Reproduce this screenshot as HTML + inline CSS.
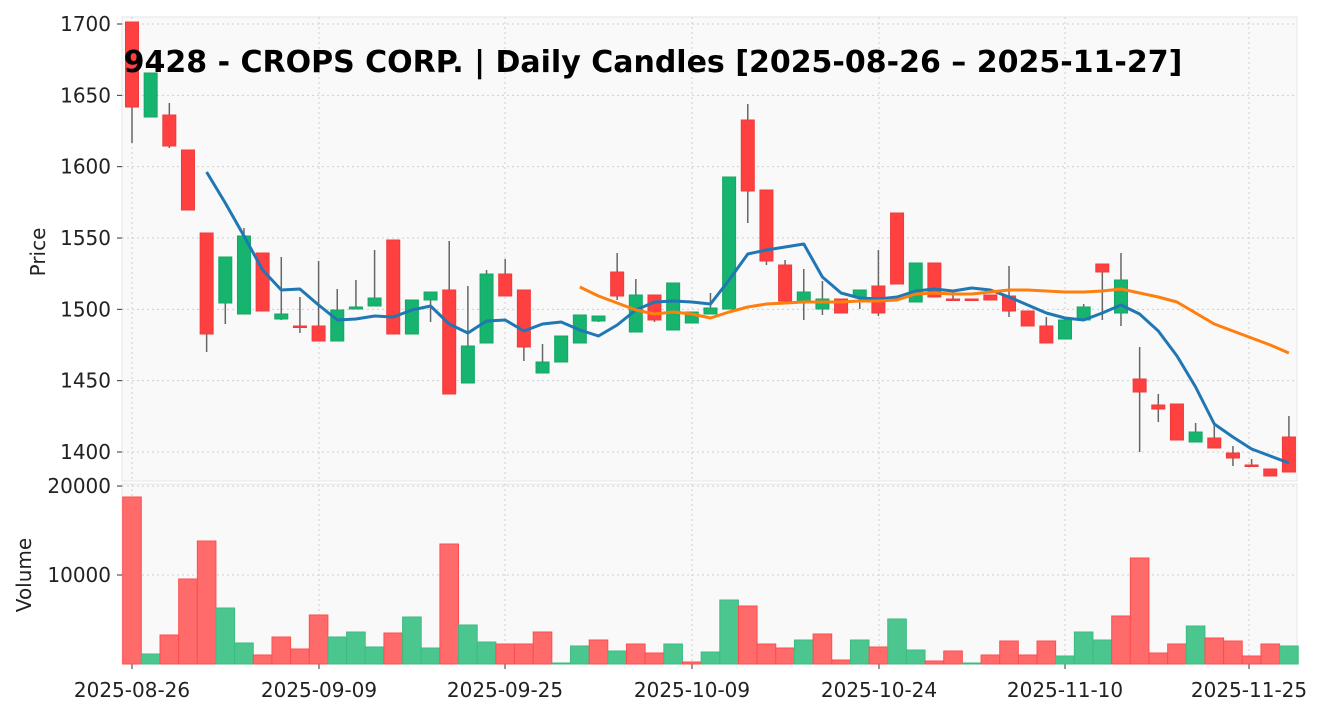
<!DOCTYPE html>
<html><head><meta charset="utf-8"><style>
html,body{margin:0;padding:0;background:#fff;}
svg{display:block;font-family:"DejaVu Sans","Liberation Sans",sans-serif;}
</style></head><body>
<svg id="c" width="1325" height="715" xmlns="http://www.w3.org/2000/svg"></svg>
<script>
const S=document.getElementById('c');let h='';
h+='<rect x="122" y="17" width="1175" height="464" fill="#f9f9f9" stroke="#e6e6e6"/>';
h+='<rect x="122" y="484" width="1175" height="180" fill="#f9f9f9" stroke="#e6e6e6"/>';
const py=p=>24+(1700-p)*428/300;
[1700,1650,1600,1550,1500,1450,1400].forEach(p=>{const y=py(p);h+=`<line x1="122" x2="1297" y1="${y}" y2="${y}" stroke="#cfcfcf" stroke-dasharray="2,3"/><line x1="117" x2="122" y1="${y}" y2="${y}" stroke="#333"/><text x="111" y="${y+7}" text-anchor="end" font-size="20" fill="#222">${p}</text>`;});
[[20000,486],[10000,575]].forEach(([v,y])=>{h+=`<line x1="122" x2="1297" y1="${y}" y2="${y}" stroke="#cfcfcf" stroke-dasharray="2,3"/><line x1="117" x2="122" y1="${y}" y2="${y}" stroke="#333"/><text x="111" y="${y+7}" text-anchor="end" font-size="20" fill="#222">${v}</text>`;});
const xl=[[132,'2025-08-26'],[319,'2025-09-09'],[505,'2025-09-25'],[692,'2025-10-09'],[879,'2025-10-24'],[1065,'2025-11-10'],[1249,'2025-11-25']];
xl.forEach(([x,t])=>{h+=`<line x1="${x}" x2="${x}" y1="17" y2="481" stroke="#cfcfcf" stroke-dasharray="2,3"/><line x1="${x}" x2="${x}" y1="484" y2="664" stroke="#cfcfcf" stroke-dasharray="2,3"/><line x1="${x}" x2="${x}" y1="664" y2="669" stroke="#333"/><text x="${x}" y="697" text-anchor="middle" font-size="20" fill="#222">${t}</text>`;});
h+='<text transform="translate(45,252) rotate(-90)" text-anchor="middle" font-size="20" fill="#222">Price</text>';
h+='<text transform="translate(31,575) rotate(-90)" text-anchor="middle" font-size="20" fill="#222">Volume</text>';
const V=[[497,'r'],[654,'g'],[635,'r'],[579,'r'],[541,'r'],[608,'g'],[643,'g'],[655,'r'],[637,'r'],[649,'r'],[615,'r'],[637,'g'],[632,'g'],[647,'g'],[633,'r'],[617,'g'],[648,'g'],[544,'r'],[625,'g'],[642,'g'],[644,'r'],[644,'r'],[632,'r'],[663,'g'],[646,'g'],[640,'r'],[651,'g'],[644,'r'],[653,'r'],[644,'g'],[662,'r'],[652,'g'],[600,'g'],[606,'r'],[644,'r'],[648,'r'],[640,'g'],[634,'r'],[660,'r'],[640,'g'],[647,'r'],[619,'g'],[650,'g'],[661,'r'],[651,'r'],[663,'g'],[655,'r'],[641,'r'],[655,'r'],[641,'r'],[656,'g'],[632,'g'],[640,'g'],[616,'r'],[558,'r'],[653,'r'],[644,'r'],[626,'g'],[638,'r'],[641,'r'],[656,'r'],[644,'r'],[646,'g']];
const X=i=>132+18.66*i;
V.forEach(([t,c],i)=>{const x=X(i)-9.3;h+=`<rect x="${x}" y="${t}" width="18.6" height="${664-t}" fill="${c=='r'?'#ff6b6b':'#4bc68e'}" stroke="${c=='r'?'#ff4d4d':'#3dbb82'}" stroke-width="1"/>`;});
const C=[[22,107,22,143,'r'],[73,117,73,117,'g'],[115,146,103,148,'r'],[150,210,150,210,'r'],[233,334,233,352,'r'],[257,303,257,324,'g'],[236,314,228,314,'g'],[253,311,253,311,'r'],[314,319,257,320,'g'],[326,327,297,333,'r'],[326,341,261,341,'r'],[310,341,289,341,'g'],[307,309,280,309,'g'],[298,306,250,306,'g'],[240,334,240,334,'r'],[300,334,300,334,'g'],[292,300,292,322,'g'],[290,394,241,394,'r'],[346,383,286,383,'g'],[274,343,270,343,'g'],[274,296,259,296,'r'],[290,347,290,361,'r'],[362,373,344,373,'g'],[336,362,336,362,'g'],[315,343,315,343,'g'],[316,321,316,322,'g'],[272,296,253,300,'r'],[295,332,279,332,'g'],[295,320,295,322,'r'],[283,330,283,330,'g'],[312,323,312,323,'g'],[308,314,293,314,'g'],[177,309,177,309,'g'],[120,191,104,223,'r'],[190,261,190,265,'r'],[265,301,260,301,'r'],[292,301,269,320,'g'],[299,309,281,315,'g'],[299,313,299,313,'r'],[290,297,290,309,'g'],[286,313,250,316,'r'],[213,284,213,284,'r'],[263,302,263,302,'g'],[263,297,263,297,'r'],[299,300,291,300,'r'],[299,300,299,300,'r'],[295,300,295,300,'r'],[296,311,266,317,'r'],[311,326,311,326,'r'],[326,343,317,343,'r'],[320,339,320,339,'g'],[307,320,304,320,'g'],[264,272,264,320,'r'],[280,313,253,326,'g'],[379,392,347,452,'r'],[405,409,394,422,'r'],[404,440,404,440,'r'],[432,442,423,442,'g'],[438,448,425,448,'r'],[453,458,446,466,'r'],[465,466,459,466,'r'],[469,476,469,476,'r'],[437,472,416,472,'r']];
C.forEach(([a,b,w1,w2,c],i)=>{const x=X(i);h+=`<line x1="${x}" x2="${x}" y1="${w1}" y2="${w2}" stroke="#666" stroke-width="1.5"/><rect x="${x-6.5}" y="${a}" width="13" height="${Math.max(b-a,1.5)}" fill="${c=='r'?'#ff4040':'#16b46e'}" stroke="${c=='r'?'#f03a3a':'#12a864'}" stroke-width="1"/>`;});
const B=[172,203,236,270,290,289,305,320,319,316,317,310,306,324,333,321,320,331,324,322,330,336,325,310,302,301,302,304,280,254,250,247,244,277,293,298,299,297,291,289,291,288,290,297,305,313,318,320,313,305,314,331,356,387,424,437,449,456,463];
h+='<polyline fill="none" stroke="#1f77b4" stroke-width="3" stroke-linejoin="round" points="'+B.map((y,i)=>X(i+4).toFixed(1)+','+y).join(' ')+'"/>';
const O=[287,296,303,310,314,312,314,318,312,307,304,303,302,302,302,301,301,300,294,293,294,294,292,290,290,291,292,292,291,289,293,297,302,313,324,331,338,345,353];
h+='<polyline fill="none" stroke="#ff7f0e" stroke-width="3" stroke-linejoin="round" points="'+O.map((y,i)=>X(i+24).toFixed(1)+','+y).join(' ')+'"/>';
h+='<text x="653" y="72" text-anchor="middle" font-size="30" font-weight="bold" fill="#000">9428 - CROPS CORP. | Daily Candles [2025-08-26 – 2025-11-27]</text>';
S.innerHTML=h;
</script>
</body></html>
